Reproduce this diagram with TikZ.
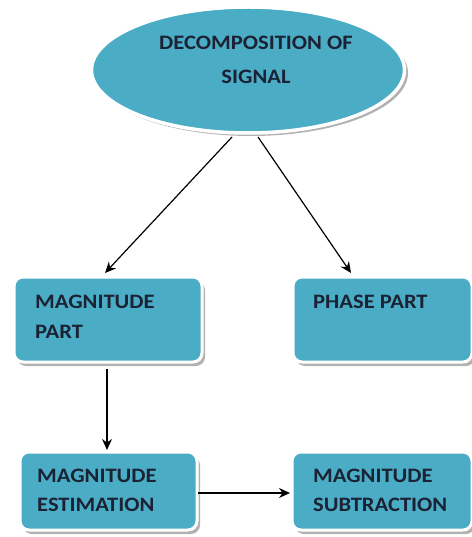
\documentclass[tikz,border=0pt]{standalone}
\usepackage{fontspec}
\setmainfont{Carlito}[FakeStretch=1.1]
\usetikzlibrary{arrows.meta,shapes.geometric}
\definecolor{boxfill}{HTML}{4BACC6}
\definecolor{txt}{HTML}{1B2233}
\begin{document}
\begin{tikzpicture}[x=1pt,y=-1pt,
  lbl/.style={font=\bfseries\fontsize{20.5}{20.5}\selectfont, text=txt, anchor=west, inner sep=0pt},
  rbox/.style={rounded corners=9pt, fill=boxfill, draw=white, line width=3pt},
  shad/.style={fill=black!30, rounded corners=9pt},
  conn/.style={-{Stealth[length=11pt,width=10pt]}, line width=1.2pt, black}]
\useasboundingbox (0,0) rectangle (471,537);
% ellipse
\fill[black!30] (251,73) ellipse [x radius=157, y radius=63];
\node[ellipse, fill=boxfill, draw=white, line width=3.5pt, minimum width=313pt, minimum height=126pt, inner sep=0pt] (dec) at (248,70) {};
\node[font=\bfseries\fontsize{20.5}{20.5}\selectfont, text=txt, inner sep=0pt] (t1) at (256,43) {DECOMPOSITION OF};
\node[font=\bfseries\fontsize{20.5}{20.5}\selectfont, text=txt, inner sep=0pt] (t2) at (256,77) {SIGNAL};
% boxes
\fill[shad] (17,281) rectangle (205,366);
\draw[rbox] (14,277) rectangle (202,362);
\fill[shad] (296,281) rectangle (475,366);
\draw[rbox] (293,277) rectangle (472,362);
\fill[shad] (23,456) rectangle (200,534);
\draw[rbox] (20,452) rectangle (197,530);
\fill[shad] (295,456) rectangle (475,534);
\draw[rbox] (292,452) rectangle (472,530);
% labels
\node[lbl] (l1) at (35,302) {MAGNITUDE};
\node[lbl] (l2) at (35,332) {PART};
\node[lbl] (l3) at (313,302) {PHASE PART};
\node[lbl] (l4) at (37,476) {MAGNITUDE};
\node[lbl] (l5) at (37,505) {ESTIMATION};
\node[lbl] (l6) at (313,476) {MAGNITUDE};
\node[lbl] (l7) at (313,505) {SUBTRACTION};
% connectors
\coordinate (a1s) at (232,137);
\coordinate (a1e) at (105,273);
\coordinate (a2s) at (258,137);
\coordinate (a2e) at (351,273);
\coordinate (a3s) at (107,369);
\coordinate (a3e) at (107,450);
\coordinate (a4s) at (198,493);
\coordinate (a4e) at (290,493);
\draw[conn] (a1s) -- (a1e);
\draw[conn] (a2s) -- (a2e);
\draw[conn] (a3s) -- (a3e);
\draw[conn] (a4s) -- (a4e);
\end{tikzpicture}
\end{document}
